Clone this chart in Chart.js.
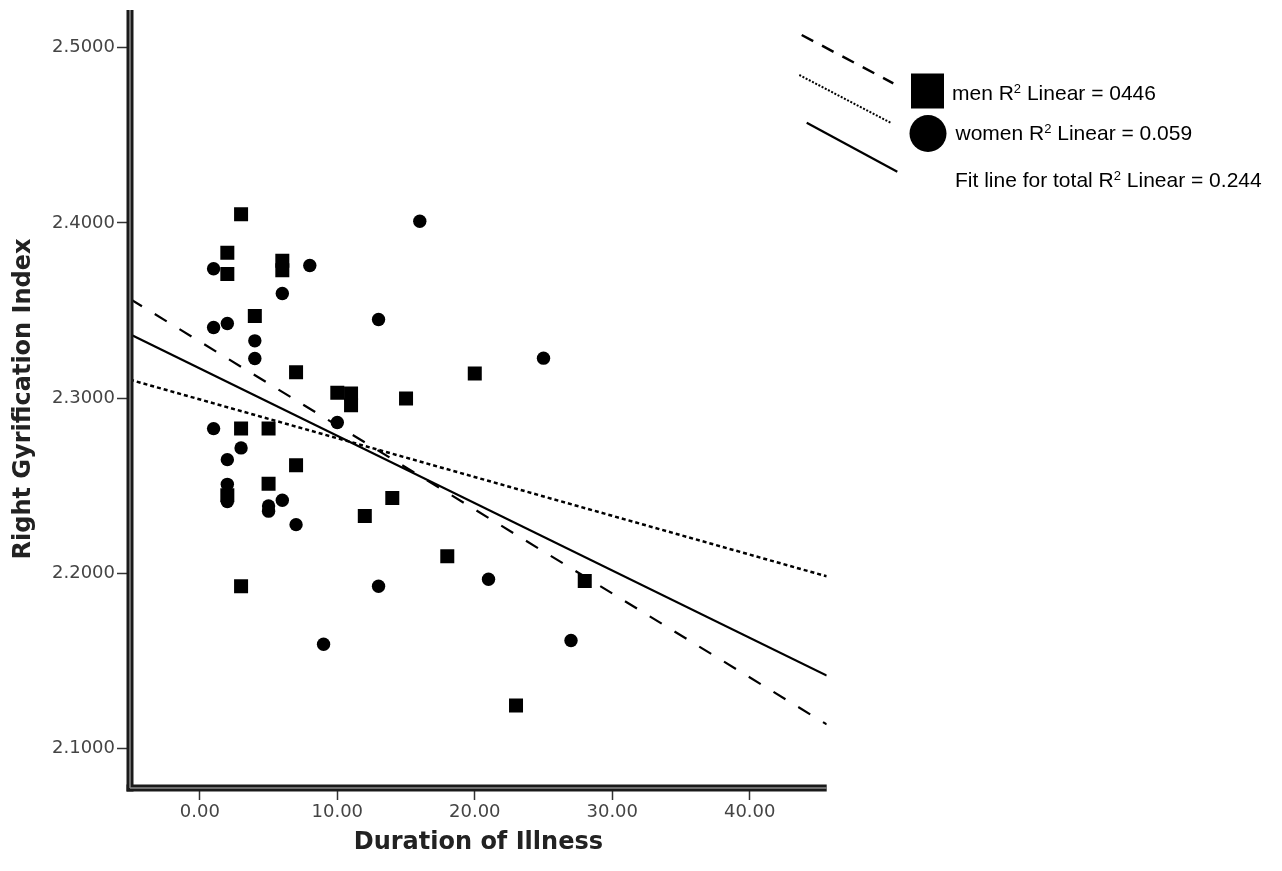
<!DOCTYPE html>
<html>
<head>
<meta charset="utf-8">
<script src="https://cdn.jsdelivr.net/npm/chart.js@4.4.1/dist/chart.umd.min.js"></script>
<style>
    body { margin: 0; background: #fff; }
    #wrap { position: relative; width: 1282px; height: 871px; }
    .lg {
        position: absolute;
        font-family: "Liberation Sans", Arial, sans-serif;
        font-size: 21px;
        line-height: 21px;
        color: #000;
        white-space: nowrap;
    }
    .lg sup { font-size: 13px; vertical-align: 7px; line-height: 0; }
</style>
</head>
<body>
<div id="wrap">
    <canvas id="chart" width="1282" height="871"></canvas>
    <div class="lg" style="left:952px; top:81.5px;">men R<sup>2</sup> Linear = 0446</div>
    <div class="lg" style="left:955.5px; top:122px;">women R<sup>2</sup> Linear = 0.059</div>
    <div class="lg" style="left:955px; top:169px;">Fit line for total R<sup>2</sup> Linear = 0.244</div>
</div>
<script>
// Duration of illness vs right gyrification index
const menX = [3, 2, 2, 6, 6, 4, 7, 10, 11, 11, 3, 5, 7, 2, 5, 12, 14, 18, 3, 15, 20, 28, 23];
const menY = [2.4049, 2.3829, 2.3708, 2.3784, 2.3730, 2.3469, 2.3148, 2.3030, 2.3026, 2.2959, 2.2826, 2.2826,
    2.2617, 2.2445, 2.2512, 2.2327, 2.2430, 2.2097, 2.1926, 2.2998, 2.3140, 2.1956, 2.1246];

const womenX = [1, 8, 6, 1, 2, 4, 4, 10, 1, 3, 2, 2, 2, 6, 5, 5, 7, 21, 13, 9, 16, 25, 13, 27];
const womenY = [2.3738, 2.3757, 2.3597, 2.3403, 2.3426, 2.3327, 2.3226, 2.2861, 2.2826, 2.2716, 2.2649, 2.2508,
    2.2410, 2.2417, 2.2385, 2.2355, 2.2278, 2.1966, 2.1926, 2.1595, 2.4009, 2.3228, 2.3449, 2.1617];

// Fit lines: value at the left and right end of the x axis
const fitX = [-5.08, 45.6];
const menFit = [2.3566, 2.1138];
const womenFit = [2.3105, 2.1983];
const totalFit = [2.3365, 2.1417];

const xTicks = [0, 10, 20, 30, 40];
const yTicks = [2.1, 2.2, 2.3, 2.4, 2.5];

const toPoints = (xs, ys) => xs.map((x, i) => ({ x: x, y: ys[i] }));

// Thick double axis lines and the hand-laid legend graphics
const decor = {
    id: 'decor',
    afterDraw(chart) {
        const { ctx, chartArea: a } = chart;
        ctx.save();
        ctx.fillStyle = '#1a1a1a';
        ctx.fillRect(a.left - 3.5, a.top, 7, a.bottom - a.top + 3.5);
        ctx.fillRect(a.left - 3.5, a.bottom - 3.5, a.right - a.left + 3.5, 7);
        ctx.fillStyle = '#8a8a8a';
        ctx.fillRect(a.left - 0.75, a.top, 1.5, a.bottom - a.top);
        ctx.fillRect(a.left, a.bottom - 0.75, a.right - a.left, 1.5);

        // legend lines
        ctx.strokeStyle = '#000';
        ctx.lineCap = 'butt';
        ctx.lineWidth = 2.5;
        ctx.setLineDash([13, 10]);
        ctx.beginPath(); ctx.moveTo(801.7, 35); ctx.lineTo(893.3, 83.3); ctx.stroke();
        ctx.lineWidth = 2;
        ctx.setLineDash([2, 1.6]);
        ctx.beginPath(); ctx.moveTo(799.3, 75); ctx.lineTo(891.7, 123.3); ctx.stroke();
        ctx.lineWidth = 2.2;
        ctx.setLineDash([]);
        ctx.beginPath(); ctx.moveTo(806.7, 122.7); ctx.lineTo(897.3, 171.7); ctx.stroke();

        // legend markers
        ctx.fillStyle = '#000';
        ctx.fillRect(911, 73.5, 33, 35);
        ctx.beginPath(); ctx.arc(928, 133.5, 18.5, 0, Math.PI * 2); ctx.fill();
        ctx.restore();
    }
};

Chart.defaults.font.family = '"DejaVu Sans", sans-serif';

const lineSet = (label, ys, dash, width) => ({
    type: 'line',
    label: label,
    data: toPoints(fitX, ys),
    borderColor: '#000',
    borderWidth: width,
    borderDash: dash,
    borderCapStyle: 'butt',
    pointRadius: 0,
    fill: false,
    tension: 0
});

new Chart(document.getElementById('chart').getContext('2d'), {
    type: 'scatter',
    data: {
        datasets: [
            { label: 'men', data: toPoints(menX, menY), pointStyle: 'rect', pointRadius: 9.9,
              backgroundColor: '#000', borderWidth: 0 },
            { label: 'women', data: toPoints(womenX, womenY), pointStyle: 'circle', pointRadius: 6.7,
              backgroundColor: '#000', borderWidth: 0 },
            lineSet('men fit', menFit, [14, 15], 2.2),
            lineSet('women fit', womenFit, [4, 3], 2.5),
            lineSet('total fit', totalFit, [], 2.2)
        ]
    },
    options: {
        responsive: false,
        animation: false,
        layout: { padding: { top: 10, right: 455.3, left: 0, bottom: 0 } },
        plugins: { legend: { display: false }, tooltip: { enabled: false } },
        scales: {
            x: {
                type: 'linear',
                min: -5.08,
                max: 45.6,
                afterBuildTicks: s => { s.ticks = xTicks.map(v => ({ value: v })); },
                afterFit: s => { s.height = 83; s.paddingLeft = 0; s.paddingRight = 0; },
                ticks: { callback: v => v.toFixed(2), font: { size: 18 }, color: '#444',
                         padding: 2, maxRotation: 0, autoSkip: false },
                grid: { drawOnChartArea: false, tickLength: 12, tickColor: '#333', tickWidth: 1.5 },
                border: { display: false },
                title: { display: true, text: 'Duration of Illness', color: '#222',
                         font: { size: 24, weight: 'bold' }, padding: { top: 0, bottom: 13.6 } }
            },
            y: {
                type: 'linear',
                min: 2.0775,
                max: 2.5215,
                afterBuildTicks: s => { s.ticks = yTicks.map(v => ({ value: v })); },
                afterFit: s => { s.width = 130; s.paddingTop = 0; s.paddingBottom = 0; },
                ticks: { callback: v => v.toFixed(4), font: { size: 18 }, color: '#444', padding: 2 },
                grid: { drawOnChartArea: false, tickLength: 13, tickColor: '#333', tickWidth: 1.5 },
                border: { display: false },
                title: { display: true, text: 'Right Gyrification Index', color: '#222',
                         font: { size: 24, weight: 'bold' }, padding: { top: 9.6, bottom: 0 } }
            }
        }
    },
    plugins: [decor]
});
</script>
</body>
</html>
